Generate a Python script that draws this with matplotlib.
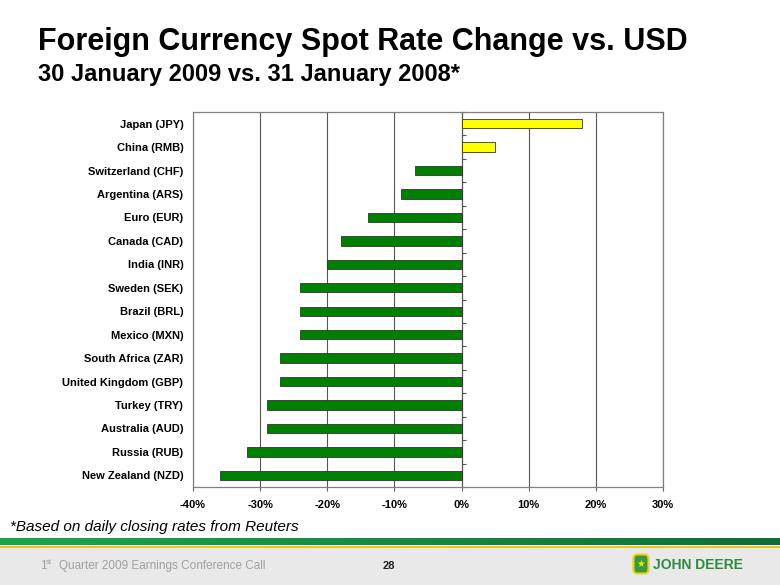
import matplotlib
matplotlib.use("Agg")
import matplotlib.pyplot as plt
import numpy as np
from matplotlib.patches import Rectangle, FancyBboxPatch
from matplotlib.ticker import FuncFormatter
from matplotlib.colors import LinearSegmentedColormap

plt.rcParams['font.family'] = ['Liberation Sans', 'DejaVu Sans']

categories = ["Japan (JPY)", "China (RMB)", "Switzerland (CHF)", "Argentina (ARS)",
              "Euro (EUR)", "Canada (CAD)", "India (INR)", "Sweden (SEK)",
              "Brazil (BRL)", "Mexico (MXN)", "South Africa (ZAR)",
              "United Kingdom (GBP)", "Turkey (TRY)", "Australia (AUD)",
              "Russia (RUB)", "New Zealand (NZD)"]
changes = [18, 5, -7, -9, -14, -18, -20, -24, -24, -24, -27, -27, -29, -29, -32, -36]
x_ticks = [-40, -30, -20, -10, 0, 10, 20, 30]

W, H = 780, 585
fig = plt.figure(figsize=(W / 100, H / 100), dpi=100)

# background / decoration layer in pixel coordinates
bg = fig.add_axes([0, 0, 1, 1])
bg.axis('off')
bg.add_patch(Rectangle((0, 546), W, H - 546, facecolor='#e9e9e9', edgecolor='none'))
grad = np.linspace(0, 1, 256)[None, :]
gcmap = LinearSegmentedColormap.from_list('g', ['#1ba64b', '#168a40', '#0f6e36'])
bg.imshow(grad, cmap=gcmap, extent=(0, W, 545.5, 539), aspect='auto', zorder=2)
bg.add_patch(Rectangle((0, 545.5), W, 2.2, facecolor='#f0c419', edgecolor='none', zorder=2))
bg.set_xlim(0, W)
bg.set_ylim(H, 0)

fig.text(38 / W, 1 - 42 / H, "Foreign Currency Spot Rate Change vs. USD",
         fontsize=22, fontweight='bold', va='center', ha='left')
fig.text(38 / W, 1 - 75 / H, "30 January 2009 vs. 31 January 2008*",
         fontsize=17, fontweight='bold', va='center', ha='left')
fig.text(10 / W, 1 - 527 / H, "*Based on daily closing rates from Reuters",
         fontsize=11, fontstyle='italic', va='center', ha='left')

# footer
fig.text(40.5 / W, 1 - 566 / H, "1", fontsize=8.5, color='#a0a0a0', va='center', ha='left')
fig.text(46 / W, 1 - 562.5 / H, "st", fontsize=5.5, color='#a0a0a0', va='center', ha='left')
fig.text(59 / W, 1 - 566 / H, "Quarter 2009 Earnings Conference Call", fontsize=8.5,
         color='#a0a0a0', va='center', ha='left')
fig.text(388.5 / W, 1 - 566 / H, "28", fontsize=8, fontweight='bold', color='#222222',
         va='center', ha='center')
bg.add_patch(FancyBboxPatch((635, 556), 12, 16, boxstyle='round,pad=1.5,rounding_size=4',
                            facecolor='#3a9a3a', edgecolor='#e8d21a', lw=1.5, zorder=3))
bg.text(641, 564, "\u2605", color='#f2e21b', fontsize=7, ha='center', va='center', zorder=4,
        family=['DejaVu Sans'])
fig.text(653 / W, 1 - 565 / H, "JOHN DEERE", fontsize=10, color='#2e8b3e',
         fontweight='bold', va='center', ha='left')

# chart
left, right, top, bottom = 193, 663, 112, 487
ax = fig.add_axes([left / W, 1 - bottom / H, (right - left) / W, (bottom - top) / H])
ypos = np.arange(len(categories))
colors = ['#ffff00' if v > 0 else '#008000' for v in changes]
ax.barh(ypos, changes, height=0.4, color=colors, edgecolor='#333333', linewidth=0.6, zorder=3)
ax.set_ylim(len(categories) - 0.5, -0.5)
ax.set_xlim(-40, 30)
ax.set_xticks(x_ticks)
ax.xaxis.set_major_formatter(FuncFormatter(lambda v, p: f"{int(round(v))}%"))
ax.set_yticks(ypos)
ax.set_yticklabels(categories)
ax.tick_params(axis='y', length=0, pad=7, labelsize=8)
ax.tick_params(axis='x', length=3, color='#606060', pad=6, labelsize=8)
for lab in ax.get_xticklabels() + ax.get_yticklabels():
    lab.set_fontweight('bold')
ax.grid(axis='x', color='#555555', linewidth=0.8, zorder=1)
for s in ax.spines.values():
    s.set_color('#808080')
    s.set_linewidth(0.9)

sec = ax.secondary_yaxis(40 / 70)
sec.set_yticks(np.arange(len(categories) + 1) - 0.5)
sec.tick_params(axis='y', direction='out', length=3, color='#555555', labelleft=False,
                labelright=False)
sec.spines['left'].set_color('#555555')
sec.spines['left'].set_linewidth(0.8)

fig.savefig("out.png", dpi=100)
